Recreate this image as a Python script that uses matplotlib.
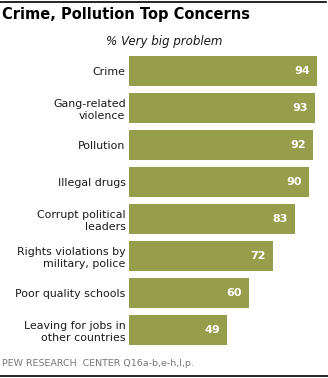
import matplotlib.pyplot as plt
from matplotlib.lines import Line2D

categories = ['Crime', 'Gang-related\nviolence', 'Pollution', 'Illegal drugs',
              'Corrupt political\nleaders', 'Rights violations by\nmilitary, police',
              'Poor quality schools', 'Leaving for jobs in\nother countries']
values = [94, 93, 92, 90, 83, 72, 60, 49]

bar_color = '#969d4b'
W, H = 328, 378

fig = plt.figure(figsize=(W / 100, H / 100), dpi=100)
fig.patch.set_facecolor('white')

# axes: x=0 at px 129, 2 px per unit
ax = fig.add_axes([129 / W, (H - 348.5) / H, (326 - 129) / W, 296 / H])
ypos = list(range(len(values)))
ax.barh(ypos, values, height=0.81, color=bar_color)
ax.set_xlim(0, (326 - 129) / 2)
ax.set_ylim(len(values) - 0.5, -0.5)

for y, v in zip(ypos, values):
    ax.text(v - 3.6, y, str(v), ha='right', va='center', color='white',
            fontsize=8, fontweight='bold')

ax.set_yticks(ypos)
ax.set_yticklabels(categories, fontsize=7.9, color='#1a1a1a')
for lbl in ax.get_yticklabels():
    lbl.set_linespacing(1.3)
ax.tick_params(axis='y', length=0, pad=2.5)
ax.set_xticks([])
for s in ax.spines.values():
    s.set_visible(False)

# header / footer
fig.add_artist(Line2D([0, 326 / W], [1 - 1.5 / H, 1 - 1.5 / H], color='black', lw=1.2))
fig.text(2 / W, 1 - 15 / H, 'Crime, Pollution Top Concerns', fontsize=10.5,
         fontweight='bold', ha='left', va='center', color='black')
fig.text(164 / W, 1 - 42 / H, '% Very big problem', fontsize=8.6, style='italic',
         ha='center', va='center', color='#1a1a1a')
fig.text(2 / W, 1 - 363 / H, 'PEW RESEARCH  CENTER Q16a-b,e-h,l,p.', fontsize=6.8,
         ha='left', va='center', color='#777777')
fig.add_artist(Line2D([0, 1], [1 - 376 / H, 1 - 376 / H], color='black', lw=1.2))

fig.savefig('out.png', dpi=100)
